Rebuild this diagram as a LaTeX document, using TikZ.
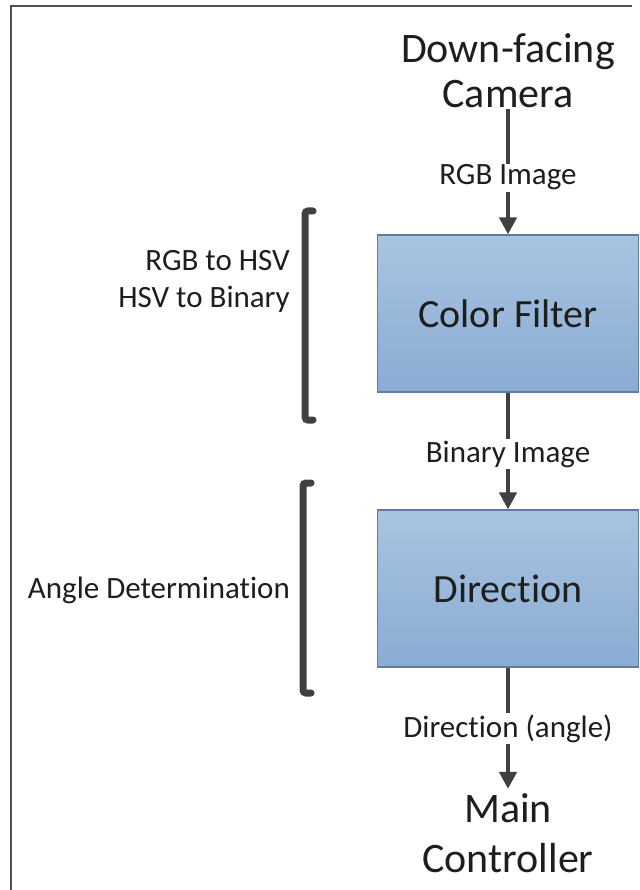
\documentclass[tikz,border=0pt]{standalone}
\usepackage{fontspec}
\setmainfont{Carlito}[Ligatures=NoCommon]
\usetikzlibrary{arrows.meta}
\definecolor{ink}{HTML}{1E1E1E}
\definecolor{wire}{HTML}{404040}
\definecolor{boxtop}{RGB}{168,196,225}
\definecolor{boxbot}{RGB}{138,172,211}
\definecolor{boxedge}{RGB}{96,124,160}
\definecolor{framecol}{HTML}{505050}

\begin{document}
\begin{tikzpicture}[x=1pt,y=-1pt,
  stage/.style={draw=boxedge, line width=1.2pt, top color=boxtop, bottom color=boxbot,
    minimum width=261pt, minimum height=157pt, inner sep=0pt,
    font=\fontsize{40}{44}\selectfont, text=ink},
  endpoint/.style={align=center, inner sep=0pt, text=ink},
  flowlabel/.style={inner sep=1pt, font=\fontsize{31}{36}\selectfont, text=ink},
  sidenote/.style={align=right, inner sep=0pt, font=\fontsize{31}{36}\selectfont, text=ink},
  flow/.style={draw=wire, line width=4.5pt},
  flowarrow/.style={flow, -{Triangle[width=17pt,length=17pt]}},
  bracket/.style={draw=wire, line width=7pt, line cap=round, rounded corners=3pt}]

\useasboundingbox (0,0) rectangle (639,890);
\fill[white] (0,0) rectangle (639,890);

% outer frame (left and top edges)
\draw[framecol, line width=1.5pt] (11,890) -- (11,6) -- (632,6);

% processing chain (anchor=base sits on the last line of a two-line node)
\node[endpoint, font=\fontsize{42}{45}\selectfont, anchor=base] (cam) at (508,108) {Down-facing\\Camera};
\node[flowlabel, anchor=base] (rgb) at (508,185) {RGB Image};
\node[stage] (cf) at (508,313.5) {Color Filter};
\node[flowlabel, anchor=base] (bin) at (508,462) {Binary Image};
\node[stage] (dir) at (508,588.5) {Direction};
\node[flowlabel, anchor=base] (ang) at (508,737) {Direction (angle)};
\node[endpoint, font=\fontsize{42}{50}\selectfont, anchor=base, inner sep=4pt] (mc) at (508,872) {Main\\Controller};

\draw[flow] (cam.south) -- (rgb.north);
\draw[flowarrow] (rgb.south) -- (cf.north);
\draw[flow] (cf.south) -- (bin.north);
\draw[flowarrow] (bin.south) -- (dir.north);
\draw[flow] (dir.south) -- (ang.north);
\draw[flowarrow] (ang.south) -- (mc.north);

% side notes with brackets
\node[sidenote, anchor=base east] (conv) at (290,307) {RGB to HSV\\HSV to Binary};
\node[sidenote, anchor=base east] (angdet) at (290,598) {Angle Determination};

\draw[bracket] (313,211) -- (305,211) -- (305,420) -- (313,420);
\draw[bracket] (311,483) -- (303,483) -- (303,693) -- (311,693);
\end{tikzpicture}
\end{document}
